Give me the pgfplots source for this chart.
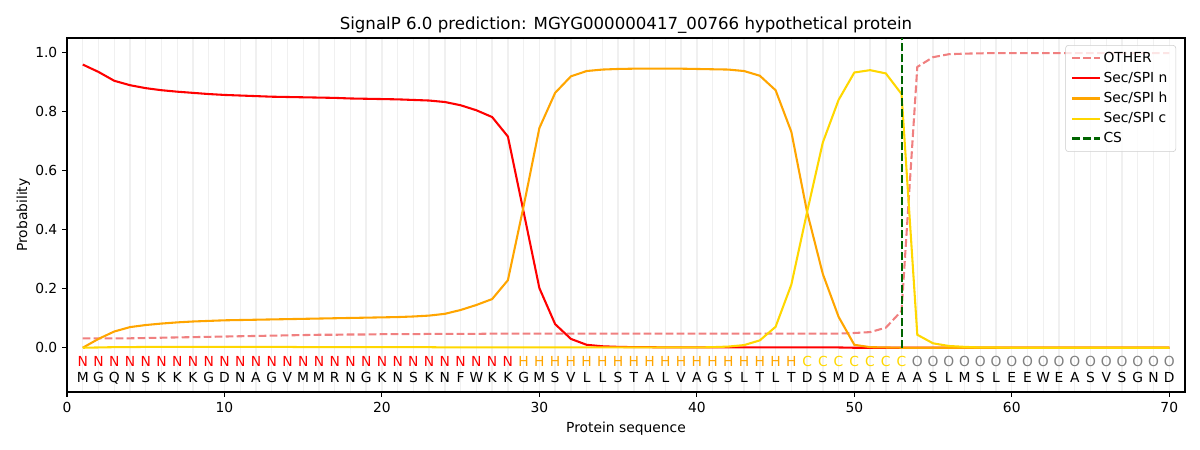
\documentclass[border=0pt]{standalone}
\usepackage{pgfplots}
\pgfplotsset{compat=1.18}
\usepackage{fontspec}
\setmainfont{DejaVu Sans}
\definecolor{othercol}{HTML}{F08080}
\definecolor{ncol}{HTML}{FF0000}
\definecolor{hcol}{HTML}{FFA500}
\definecolor{ccol}{HTML}{FFD700}
\definecolor{cscol}{HTML}{006400}
\begin{document}
\begin{tikzpicture}
\path[use as bounding box] (0,0) rectangle (12in,4.5in);
\begin{axis}[
  at={(0.67in,0.58in)}, anchor=south west,
  scale only axis, width=11.18in, height=3.54in,
  xmin=0, xmax=71, ymin=-0.15, ymax=1.05,
  xtick={0,10,...,70},
  ytick={0,0.2,...,1.0},
  yticklabel style={/pgf/number format/.cd,fixed,fixed zerofill,precision=1},
  /pgf/number format/assume math mode=true,
  minor xtick={1,...,70},
  xminorgrids=true,
  minor grid style={draw=black!6, line width=1pt},
  minor tick length=0pt,
  major tick length=3.5pt,
  tick align=outside,
  tick pos=left,
  tick style={line width=0.8pt, black},
  axis line style={line width=0.8pt},
  ticklabel style={font=\fontsize{10}{12}\selectfont},
  title={SignalP 6.0 prediction: MGYG000000417\_00766 hypothetical protein},
  title style={font=\fontsize{12}{14}\selectfont, yshift=-6pt},
  xlabel={Protein sequence}, ylabel={Probability},
  label style={font=\fontsize{10}{12}\selectfont},
  xlabel style={yshift=0pt},
  ylabel style={yshift=-3pt},
  legend style={at={(0.992,0.98)}, anchor=north east, draw=black!20, rounded corners=2pt,
    fill=white, fill opacity=0.8, draw opacity=1, text opacity=1,
    font=\fontsize{10}{12}\selectfont, row sep=1.5pt, inner xsep=4pt, inner ysep=3pt},
  legend cell align=left,
  legend image code/.code={\draw[#1] (0cm,0cm) -- (0.7cm,0cm);},
  clip=false,
]
\addplot[othercol, line width=1.5pt, dash pattern=on 5.55pt off 2.4pt] coordinates {
(1,0.032)(2,0.032)(3,0.032)(4,0.032)(5,0.033)(6,0.034)(7,0.035)(8,0.036)(9,0.037)(10,0.038)
(11,0.039)(12,0.040)(13,0.041)(14,0.042)(15,0.043)(16,0.044)(17,0.044)(18,0.045)(19,0.045)(20,0.046)
(21,0.046)(22,0.046)(23,0.047)(24,0.047)(25,0.047)(26,0.047)(27,0.048)(28,0.048)(29,0.048)(30,0.048)
(31,0.048)(32,0.048)(33,0.048)(34,0.048)(35,0.048)(36,0.048)(37,0.048)(38,0.048)(39,0.048)(40,0.048)
(41,0.048)(42,0.048)(43,0.048)(44,0.048)(45,0.048)(46,0.048)(47,0.048)(48,0.048)(49,0.048)(50,0.050)
(51,0.053)(52,0.068)(53,0.125)(54,0.952)(55,0.985)(56,0.995)(57,0.997)(58,0.998)(59,0.999)(60,0.999)
(61,0.999)(62,0.999)(63,0.999)(64,0.999)(65,0.999)(66,0.999)(67,0.999)(68,0.999)(69,0.999)(70,0.999)
};
\addlegendentry{OTHER}
\addplot[ncol, line width=1.5pt] coordinates {
(1,0.960)(2,0.935)(3,0.905)(4,0.890)(5,0.880)(6,0.873)(7,0.868)(8,0.864)(9,0.860)(10,0.857)
(11,0.855)(12,0.853)(13,0.851)(14,0.850)(15,0.849)(16,0.848)(17,0.847)(18,0.845)(19,0.844)(20,0.843)
(21,0.842)(22,0.840)(23,0.838)(24,0.833)(25,0.822)(26,0.805)(27,0.782)(28,0.716)(29,0.460)(30,0.202)
(31,0.080)(32,0.030)(33,0.010)(34,0.005)(35,0.003)(36,0.002)(37,0.002)(38,0.001)(39,0.001)(40,0.001)
(41,0.001)(42,0.001)(43,0.001)(44,0.001)(45,0.001)(46,0.001)(47,0.001)(48,0.001)(49,0.001)(50,0.000)
(51,0.000)(52,0.000)(53,0.000)(54,0.000)(55,0.000)(56,0.000)(57,0.000)(58,0.000)(59,0.000)(60,0.000)
(61,0.000)(62,0.000)(63,0.000)(64,0.000)(65,0.000)(66,0.000)(67,0.000)(68,0.000)(69,0.000)(70,0.000)
};
\addlegendentry{Sec/SPI n}
\addplot[hcol, line width=1.5pt] coordinates {
(1,0.000)(2,0.030)(3,0.055)(4,0.070)(5,0.077)(6,0.082)(7,0.086)(8,0.089)(9,0.091)(10,0.093)
(11,0.094)(12,0.095)(13,0.096)(14,0.097)(15,0.098)(16,0.099)(17,0.100)(18,0.101)(19,0.102)(20,0.103)
(21,0.104)(22,0.106)(23,0.109)(24,0.115)(25,0.128)(26,0.145)(27,0.165)(28,0.229)(29,0.480)(30,0.745)
(31,0.864)(32,0.920)(33,0.938)(34,0.943)(35,0.945)(36,0.946)(37,0.946)(38,0.946)(39,0.946)(40,0.945)
(41,0.944)(42,0.943)(43,0.938)(44,0.922)(45,0.873)(46,0.732)(47,0.460)(48,0.250)(49,0.105)(50,0.010)
(51,0.002)(52,0.001)(53,0.000)(54,0.000)(55,0.000)(56,0.000)(57,0.000)(58,0.000)(59,0.000)(60,0.000)
(61,0.000)(62,0.000)(63,0.000)(64,0.000)(65,0.000)(66,0.000)(67,0.000)(68,0.000)(69,0.000)(70,0.000)
};
\addlegendentry{Sec/SPI h}
\addplot[ccol, line width=1.5pt] coordinates {
(1,0.000)(2,0.001)(3,0.002)(4,0.002)(5,0.003)(6,0.003)(7,0.003)(8,0.003)(9,0.003)(10,0.003)
(11,0.003)(12,0.003)(13,0.003)(14,0.003)(15,0.002)(16,0.002)(17,0.002)(18,0.002)(19,0.002)(20,0.002)
(21,0.002)(22,0.002)(23,0.002)(24,0.001)(25,0.001)(26,0.001)(27,0.001)(28,0.001)(29,0.001)(30,0.001)
(31,0.001)(32,0.001)(33,0.001)(34,0.001)(35,0.001)(36,0.001)(37,0.001)(38,0.001)(39,0.001)(40,0.001)
(41,0.002)(42,0.004)(43,0.009)(44,0.025)(45,0.071)(46,0.214)(47,0.460)(48,0.696)(49,0.840)(50,0.933)
(51,0.941)(52,0.930)(53,0.860)(54,0.044)(55,0.015)(56,0.006)(57,0.003)(58,0.001)(59,0.001)(60,0.000)
(61,0.000)(62,0.000)(63,0.000)(64,0.000)(65,0.000)(66,0.000)(67,0.000)(68,0.000)(69,0.000)(70,0.000)
};
\addlegendentry{Sec/SPI c}
\addplot[cscol, line width=1.5pt, dash pattern=on 5.55pt off 2.4pt] coordinates {(53,0)(53,1.05)};
\addlegendentry{CS}
% region labels
\addplot[draw=none, nodes near coords, point meta=explicit symbolic,
  every node near coord/.style={anchor=center, text=ncol, font=\fontsize{10}{12}\selectfont}]
  table[meta=l, row sep=\\] {x y l\\
1 -0.048 N\\ 2 -0.048 N\\ 3 -0.048 N\\ 4 -0.048 N\\ 5 -0.048 N\\ 6 -0.048 N\\ 7 -0.048 N\\
8 -0.048 N\\ 9 -0.048 N\\ 10 -0.048 N\\ 11 -0.048 N\\ 12 -0.048 N\\ 13 -0.048 N\\ 14 -0.048 N\\
15 -0.048 N\\ 16 -0.048 N\\ 17 -0.048 N\\ 18 -0.048 N\\ 19 -0.048 N\\ 20 -0.048 N\\ 21 -0.048 N\\
22 -0.048 N\\ 23 -0.048 N\\ 24 -0.048 N\\ 25 -0.048 N\\ 26 -0.048 N\\ 27 -0.048 N\\ 28 -0.048 N\\
};
\addplot[draw=none, nodes near coords, point meta=explicit symbolic,
  every node near coord/.style={anchor=center, text=hcol, font=\fontsize{10}{12}\selectfont}]
  table[meta=l, row sep=\\] {x y l\\
29 -0.048 H\\ 30 -0.048 H\\ 31 -0.048 H\\ 32 -0.048 H\\ 33 -0.048 H\\ 34 -0.048 H\\
35 -0.048 H\\ 36 -0.048 H\\ 37 -0.048 H\\ 38 -0.048 H\\ 39 -0.048 H\\ 40 -0.048 H\\
41 -0.048 H\\ 42 -0.048 H\\ 43 -0.048 H\\ 44 -0.048 H\\ 45 -0.048 H\\ 46 -0.048 H\\
};
\addplot[draw=none, nodes near coords, point meta=explicit symbolic,
  every node near coord/.style={anchor=center, text=ccol, font=\fontsize{10}{12}\selectfont}]
  table[meta=l, row sep=\\] {x y l\\
47 -0.048 C\\ 48 -0.048 C\\ 49 -0.048 C\\ 50 -0.048 C\\ 51 -0.048 C\\ 52 -0.048 C\\ 53 -0.048 C\\
};
\addplot[draw=none, nodes near coords, point meta=explicit symbolic,
  every node near coord/.style={anchor=center, text=gray, font=\fontsize{10}{12}\selectfont}]
  table[meta=l, row sep=\\] {x y l\\
54 -0.048 O\\ 55 -0.048 O\\ 56 -0.048 O\\ 57 -0.048 O\\ 58 -0.048 O\\ 59 -0.048 O\\
60 -0.048 O\\ 61 -0.048 O\\ 62 -0.048 O\\ 63 -0.048 O\\ 64 -0.048 O\\ 65 -0.048 O\\
66 -0.048 O\\ 67 -0.048 O\\ 68 -0.048 O\\ 69 -0.048 O\\ 70 -0.048 O\\
};
% residues
\addplot[draw=none, nodes near coords, point meta=explicit symbolic,
  every node near coord/.style={anchor=center, text=black, font=\fontsize{10}{12}\selectfont}]
  table[meta=l, row sep=\\] {x y l\\
1 -0.102 M\\ 2 -0.102 G\\ 3 -0.102 Q\\ 4 -0.102 N\\ 5 -0.102 S\\ 6 -0.102 K\\ 7 -0.102 K\\
8 -0.102 K\\ 9 -0.102 G\\ 10 -0.102 D\\ 11 -0.102 N\\ 12 -0.102 A\\ 13 -0.102 G\\ 14 -0.102 V\\
15 -0.102 M\\ 16 -0.102 M\\ 17 -0.102 R\\ 18 -0.102 N\\ 19 -0.102 G\\ 20 -0.102 K\\ 21 -0.102 N\\
22 -0.102 S\\ 23 -0.102 K\\ 24 -0.102 N\\ 25 -0.102 F\\ 26 -0.102 W\\ 27 -0.102 K\\ 28 -0.102 K\\
29 -0.102 G\\ 30 -0.102 M\\ 31 -0.102 S\\ 32 -0.102 V\\ 33 -0.102 L\\ 34 -0.102 L\\ 35 -0.102 S\\
36 -0.102 T\\ 37 -0.102 A\\ 38 -0.102 L\\ 39 -0.102 V\\ 40 -0.102 A\\ 41 -0.102 G\\ 42 -0.102 S\\
43 -0.102 L\\ 44 -0.102 T\\ 45 -0.102 L\\ 46 -0.102 T\\ 47 -0.102 D\\ 48 -0.102 S\\ 49 -0.102 M\\
50 -0.102 D\\ 51 -0.102 A\\ 52 -0.102 E\\ 53 -0.102 A\\ 54 -0.102 A\\ 55 -0.102 S\\ 56 -0.102 L\\
57 -0.102 M\\ 58 -0.102 S\\ 59 -0.102 L\\ 60 -0.102 E\\ 61 -0.102 E\\ 62 -0.102 W\\ 63 -0.102 E\\
64 -0.102 A\\ 65 -0.102 S\\ 66 -0.102 V\\ 67 -0.102 S\\ 68 -0.102 G\\ 69 -0.102 N\\ 70 -0.102 D\\
};
\end{axis}
\end{tikzpicture}
\end{document}
